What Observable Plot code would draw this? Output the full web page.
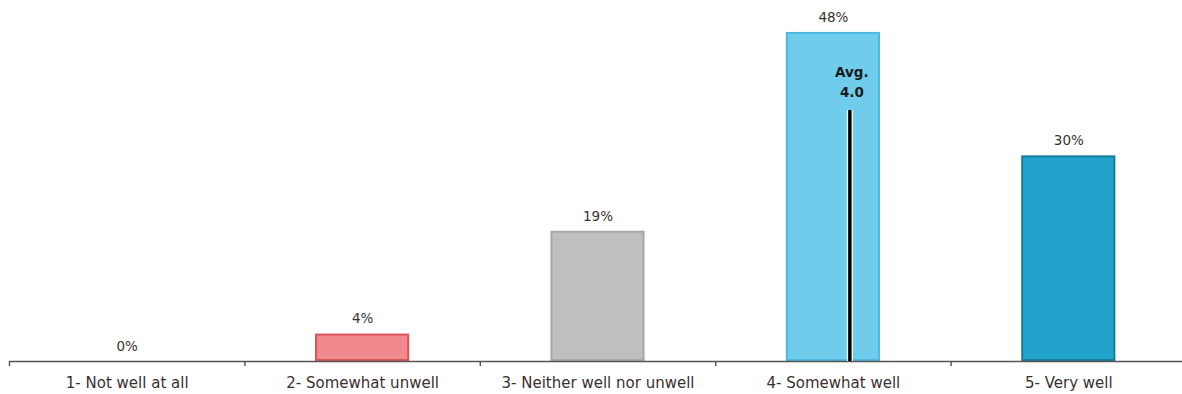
<!DOCTYPE html>
<html>
<head>
<meta charset="utf-8">
<script src="https://cdn.jsdelivr.net/npm/d3@7"></script>
<script src="https://cdn.jsdelivr.net/npm/@observablehq/plot@0.6"></script>
<style>
  html, body { margin: 0; padding: 0; background: #fff; }
  #chart svg { display: block; }
</style>
</head>
<body>
<div id="chart"></div>
<script>
const categories = ["1- Not well at all", "2- Somewhat unwell", "3- Neither well nor unwell", "4- Somewhat well", "5- Very well"];
const values = [0, 4, 19, 48, 30];
const valueLabels = ["0%", "4%", "19%", "48%", "30%"];
const fills = ["#F08A8E", "#F08A8E", "#BFBFBF", "#6FCDEB", "#21A3CC"];
const strokes = ["#D9545B", "#D9545B", "#A8A8A8", "#4DB9E2", "#157C9E"];
const avgValue = 4.07;
const avgLabel = "Avg.\n4.0";
const avgLineTop = 36.6;

const data = categories.map((c, i) => ({pos: i + 1, cat: c, value: values[i], label: valueLabels[i], fill: fills[i], stroke: strokes[i]}));
const boundaries = categories.map((c, i) => i + 0.5);
const half = 0.2;
const textColor = "#3a3030";
const font = "DejaVu Sans";

const chart = Plot.plot({
  width: 1182,
  height: 394,
  marginTop: 10,
  marginBottom: 33,
  marginLeft: 9,
  marginRight: 0,
  style: {fontFamily: font, color: textColor, background: "#fff"},
  x: {type: "linear", domain: [0.5, categories.length + 0.5], range: [9, 1186], label: null},
  y: {domain: [0, 51.2], axis: null},
  marks: [
    Plot.rectY(data.filter(d => d.value > 0), {
      x1: d => d.pos - half, x2: d => d.pos + half, y1: 0, y2: "value",
      fill: d => d.fill, stroke: d => d.stroke, strokeWidth: 2, inset: 1
    }),
    Plot.ruleY([0], {stroke: "#555", strokeWidth: 1.5}),
    Plot.axisX({ticks: boundaries, tickFormat: () => "", tickSize: 5, stroke: "#555", strokeWidth: 1.5, label: null}),
    Plot.axisX({ticks: data.map(d => d.pos), tickSize: 0, tickPadding: 16, label: null,
      tickFormat: v => categories[v - 1], fontSize: 15, fill: textColor, letterSpacing: 0.4}),
    Plot.text(data, {x: "pos", y: "value", text: "label", dy: -15, fontSize: 13.5, fill: textColor}),
    Plot.ruleX([avgValue], {y1: 0, y2: avgLineTop, stroke: "#fff", strokeWidth: 6}),
    Plot.ruleX([avgValue], {y1: 0, y2: avgLineTop, stroke: "#000", strokeWidth: 3.5}),
    Plot.text([avgValue], {x: d => d, y: avgLineTop, text: () => avgLabel, lineAnchor: "bottom",
      dy: -14, dx: 2, fontSize: 13.5, fontWeight: "bold", fill: "#1a1a1a", lineHeight: 1.45})
  ]
});
document.getElementById("chart").append(chart);
</script>
</body>
</html>
